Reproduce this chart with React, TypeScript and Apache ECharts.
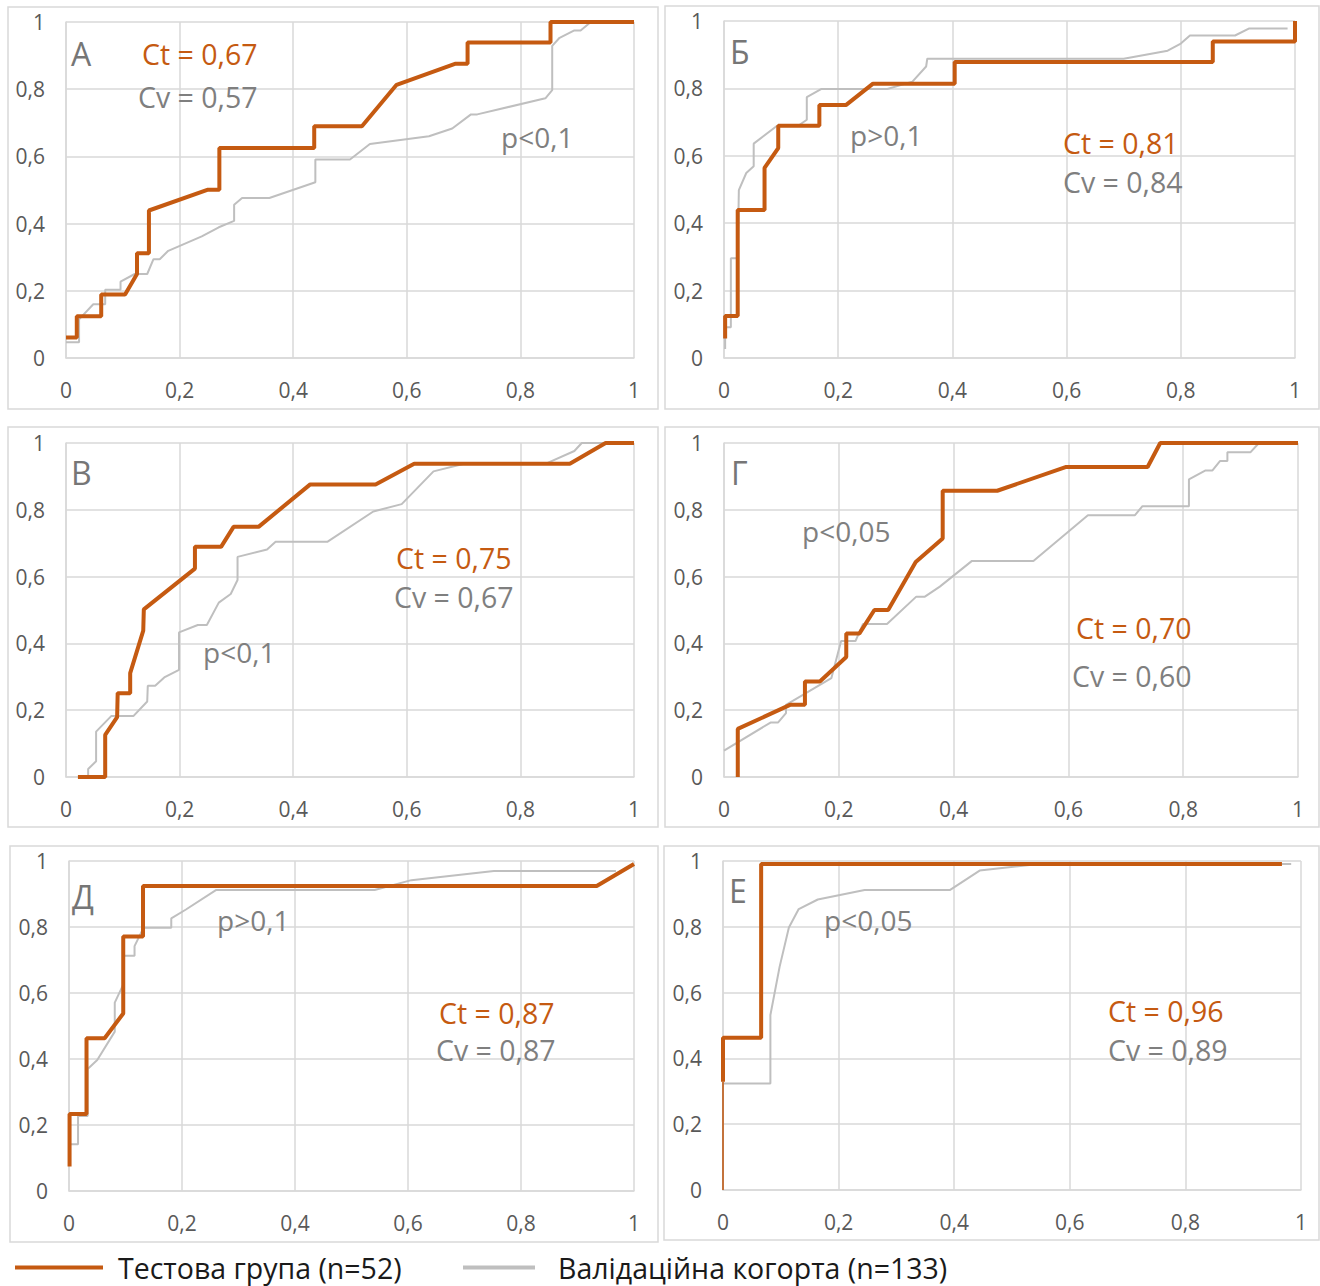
import React, { useEffect, useRef } from "react";
import * as echarts from "echarts";

const FONT = '"Open Sans", "Noto Sans", sans-serif';
const ORANGE = "#C55A11";
const GREY_LINE = "#BFBFBF";
const GREY_TEXT = "#7F7F7F";
const LETTER_TEXT = "#767676";
const AXIS_TEXT = "#595959";
const GRID_COLOR = "#D9D9D9";

const TEST_NAME = "Тестова група (n=52)";
const VALID_NAME = "Валідаційна когорта (n=133)";

// ROC points [1 - specificity, sensitivity]
const testA = [[0,0.061],[0.019,0.061],[0.019,0.124],[0.062,0.124],[0.062,0.189],[0.104,0.189],[0.125,0.25],[0.125,0.312],[0.146,0.312],[0.146,0.439],[0.25,0.501],[0.27,0.501],[0.27,0.625],[0.437,0.625],[0.437,0.69],[0.521,0.69],[0.582,0.813],[0.686,0.876],[0.707,0.876],[0.707,0.939],[0.853,0.939],[0.853,1],[1,1]];
const validA = [[0,0.047],[0.023,0.047],[0.023,0.115],[0.048,0.16],[0.069,0.16],[0.069,0.203],[0.096,0.203],[0.096,0.227],[0.121,0.25],[0.143,0.25],[0.154,0.294],[0.165,0.294],[0.18,0.319],[0.239,0.362],[0.269,0.389],[0.296,0.408],[0.296,0.456],[0.31,0.476],[0.358,0.476],[0.439,0.523],[0.439,0.591],[0.5,0.591],[0.535,0.637],[0.639,0.66],[0.68,0.683],[0.713,0.725],[0.724,0.725],[0.844,0.773],[0.856,0.797],[0.856,0.929],[0.869,0.953],[0.895,0.975],[0.906,0.975],[0.924,1],[1,1]];

const testB = [[0.002,0.058],[0.002,0.125],[0.024,0.125],[0.024,0.439],[0.071,0.439],[0.071,0.564],[0.095,0.623],[0.095,0.689],[0.167,0.689],[0.167,0.751],[0.214,0.751],[0.261,0.814],[0.404,0.814],[0.404,0.878],[0.856,0.878],[0.856,0.939],[1,0.939],[1,1]];
const validB = [[0.002,0.027],[0.002,0.091],[0.012,0.091],[0.012,0.296],[0.024,0.296],[0.026,0.498],[0.039,0.549],[0.052,0.569],[0.052,0.636],[0.093,0.689],[0.13,0.689],[0.145,0.707],[0.145,0.774],[0.17,0.798],[0.286,0.798],[0.33,0.82],[0.354,0.865],[0.356,0.888],[0.7,0.888],[0.777,0.912],[0.8,0.933],[0.816,0.957],[0.895,0.957],[0.92,0.978],[0.987,0.978]];

const testV = [[0.021,0],[0.069,0],[0.069,0.126],[0.09,0.179],[0.091,0.251],[0.113,0.251],[0.113,0.311],[0.136,0.438],[0.137,0.502],[0.227,0.624],[0.227,0.689],[0.273,0.689],[0.295,0.749],[0.339,0.749],[0.43,0.876],[0.545,0.876],[0.613,0.938],[0.887,0.938],[0.95,1],[1,1]];
const validV = [[0.024,0],[0.039,0],[0.039,0.024],[0.053,0.047],[0.053,0.136],[0.08,0.183],[0.119,0.183],[0.143,0.226],[0.144,0.273],[0.157,0.273],[0.173,0.298],[0.199,0.321],[0.199,0.433],[0.232,0.455],[0.248,0.455],[0.269,0.522],[0.29,0.548],[0.302,0.59],[0.302,0.659],[0.354,0.681],[0.369,0.704],[0.46,0.704],[0.541,0.795],[0.591,0.817],[0.647,0.915],[0.699,0.937],[0.843,0.937],[0.895,0.976],[0.908,1],[1,1]];

const testG = [[0.024,0],[0.024,0.144],[0.115,0.216],[0.141,0.216],[0.141,0.286],[0.167,0.286],[0.213,0.359],[0.213,0.43],[0.236,0.43],[0.262,0.5],[0.286,0.5],[0.334,0.644],[0.381,0.714],[0.381,0.857],[0.476,0.857],[0.595,0.928],[0.738,0.928],[0.76,1],[1,1]];
const validG = [[0,0.079],[0.081,0.163],[0.094,0.163],[0.108,0.191],[0.108,0.216],[0.187,0.296],[0.204,0.407],[0.229,0.407],[0.242,0.458],[0.284,0.458],[0.335,0.54],[0.35,0.54],[0.376,0.57],[0.432,0.647],[0.539,0.647],[0.634,0.784],[0.716,0.784],[0.729,0.811],[0.81,0.811],[0.81,0.891],[0.839,0.918],[0.851,0.918],[0.864,0.946],[0.877,0.946],[0.877,0.972],[0.917,0.972],[0.932,1],[1,1]];

const testD = [[0.001,0.074],[0.001,0.233],[0.031,0.233],[0.031,0.463],[0.063,0.463],[0.096,0.538],[0.096,0.771],[0.131,0.771],[0.131,0.924],[0.934,0.924],[1,0.991]];
const validD = [[0,0.142],[0.016,0.142],[0.016,0.227],[0.033,0.227],[0.033,0.37],[0.05,0.397],[0.081,0.483],[0.081,0.571],[0.097,0.629],[0.097,0.713],[0.116,0.713],[0.116,0.742],[0.132,0.798],[0.181,0.798],[0.181,0.826],[0.207,0.853],[0.26,0.912],[0.541,0.912],[0.606,0.942],[0.752,0.97],[0.968,0.97]];

const testE = [[0,0.329],[0,0.463],[0.066,0.463],[0.066,0.991],[0.967,0.991]];
const testEBase = [[0,0],[0,0.329]]; // thin initial segment on the axis
const validE = [[0,0],[0,0.324],[0.082,0.324],[0.082,0.532],[0.098,0.679],[0.114,0.798],[0.131,0.854],[0.164,0.883],[0.245,0.912],[0.393,0.912],[0.444,0.971],[0.546,0.991],[0.983,0.991]];

const panelLetters = ["А", "Б", "В", "Г", "Д", "Е"];
const ctLabels = ["Ct = 0,67", "Ct = 0,81", "Ct = 0,75", "Ct = 0,70", "Ct = 0,87", "Ct = 0,96"];
const cvLabels = ["Cv = 0,57", "Cv = 0,84", "Cv = 0,67", "Cv = 0,60", "Cv = 0,87", "Cv = 0,89"];
const pLabels = ["p<0,1", "p>0,1", "p<0,1", "p<0,05", "p>0,1", "p<0,05"];
const testSeries = [testA, testB, testV, testG, testD, testE];
const validSeries = [validA, validB, validV, validG, validD, validE];

// layout (pixels)
const layout = [
  { grid: { left: 66, top: 22, width: 568, height: 336 }, box: [8, 7, 650, 402], letter: [71, 53], ct: [142, 54], cv: [138, 97], p: [501, 137] },
  { grid: { left: 724, top: 21, width: 571, height: 337 }, box: [665, 6, 654, 403], letter: [730, 51], ct: [1063, 143], cv: [1063, 182], p: [850, 135] },
  { grid: { left: 66, top: 443, width: 568, height: 334 }, box: [8, 427, 650, 400], letter: [71, 472], ct: [396, 558], cv: [394, 597], p: [203, 652] },
  { grid: { left: 724, top: 443, width: 574, height: 334 }, box: [665, 427, 654, 400], letter: [731, 472], ct: [1076, 628], cv: [1072, 676], p: [802, 531] },
  { grid: { left: 69, top: 861, width: 565, height: 330 }, box: [10, 846, 648, 396], letter: [72, 896], ct: [439, 1013], cv: [436, 1050], p: [217, 920] },
  { grid: { left: 723, top: 861, width: 578, height: 329 }, box: [664, 846, 655, 394], letter: [729, 890], ct: [1108, 1011], cv: [1108, 1050], p: [824, 920] },
];

const fmt = (v: number) => (v === 0 || v === 1 ? String(v) : v.toFixed(1).replace(".", ","));

function textEl(x: number, y: number, text: string, color: string, size: number) {
  return {
    type: "text",
    x,
    y,
    z: 10,
    style: {
      text,
      fill: color,
      fontSize: size,
      fontFamily: FONT,
      textAlign: "left",
      align: "left",
      textVerticalAlign: "middle",
      verticalAlign: "middle",
    },
  };
}

function legendCfg(name: string, left: number, iconW: number, iconH: number, gap: number) {
  return {
    data: [name],
    left,
    top: 1253,
    padding: 0,
    icon: "rect",
    itemWidth: iconW,
    itemHeight: iconH,
    selectedMode: false,
    formatter: (n: string) => `{g|}{t|${n}}`,
    textStyle: {
      fontSize: 28.5,
      fontFamily: FONT,
      color: "#1A1A1A",
      rich: {
        g: { width: gap, fontSize: 28.5 },
        t: { fontSize: 28.5, fontFamily: FONT, color: "#1A1A1A" },
      },
    },
  };
}

export default function App() {
  const ref = useRef<HTMLDivElement>(null);
  useEffect(() => {
    if (!ref.current) return;
    const chart = echarts.init(ref.current, undefined, { renderer: "svg" });
    const grids: any[] = [];
    const xAxes: any[] = [];
    const yAxes: any[] = [];
    const series: any[] = [];
    const graphics: any[] = [];
    layout.forEach((L, i) => {
      grids.push({ ...L.grid, containLabel: false });
      const axisCommon = {
        type: "value",
        gridIndex: i,
        min: 0,
        max: 1,
        interval: 0.2,
        axisLine: { show: true, lineStyle: { color: GRID_COLOR, width: 1.5 } },
        axisTick: { show: false },
        splitLine: { show: true, lineStyle: { color: GRID_COLOR, width: 1.5 } },
      };
      xAxes.push({
        ...axisCommon,
        axisLabel: { formatter: fmt, color: AXIS_TEXT, fontSize: 21, fontFamily: FONT, margin: 21 },
      });
      yAxes.push({
        ...axisCommon,
        axisLabel: { formatter: fmt, color: AXIS_TEXT, fontSize: 21, fontFamily: FONT, margin: 21 },
      });
      series.push({
        type: "line",
        name: VALID_NAME,
        xAxisIndex: i,
        yAxisIndex: i,
        data: validSeries[i],
        showSymbol: false,
        symbol: "none",
        clip: false,
        lineStyle: { color: GREY_LINE, width: 2 },
        itemStyle: { color: GREY_LINE },
        z: 2,
      });
      if (i === 5) {
        series.push({
          type: "line",
          name: TEST_NAME,
          xAxisIndex: i,
          yAxisIndex: i,
          data: testEBase,
          showSymbol: false,
          symbol: "none",
          clip: false,
          lineStyle: { color: ORANGE, width: 1.5 },
          itemStyle: { color: ORANGE },
          z: 3,
        });
      }
      series.push({
        type: "line",
        name: TEST_NAME,
        xAxisIndex: i,
        yAxisIndex: i,
        data: testSeries[i],
        showSymbol: false,
        symbol: "none",
        clip: false,
        lineStyle: { color: ORANGE, width: 4 },
        itemStyle: { color: ORANGE },
        z: 3,
      });
      graphics.push({
        type: "rect",
        shape: { x: L.box[0], y: L.box[1], width: L.box[2], height: L.box[3] },
        style: { fill: "none", stroke: GRID_COLOR, lineWidth: 1.5 },
        z: 0,
      });
      graphics.push(textEl(L.letter[0], L.letter[1], panelLetters[i], LETTER_TEXT, 32));
      graphics.push(textEl(L.ct[0], L.ct[1], ctLabels[i], ORANGE, 28.5));
      graphics.push(textEl(L.cv[0], L.cv[1], cvLabels[i], GREY_TEXT, 28.5));
      graphics.push(textEl(L.p[0], L.p[1], pLabels[i], GREY_TEXT, 28));
    });

    chart.setOption({
      animation: false,
      backgroundColor: "#ffffff",
      grid: grids,
      xAxis: xAxes,
      yAxis: yAxes,
      series,
      legend: [
        legendCfg(TEST_NAME, 15, 88, 4, 10),
        legendCfg(VALID_NAME, 463, 72, 4, 18),
      ],
      graphic: graphics,
    });
    return () => chart.dispose();
  }, []);
  return (
    <div
      ref={ref}
      style={{ position: "absolute", left: 0, top: 0, width: 1320, height: 1286, background: "#fff" }}
    />
  );
}
